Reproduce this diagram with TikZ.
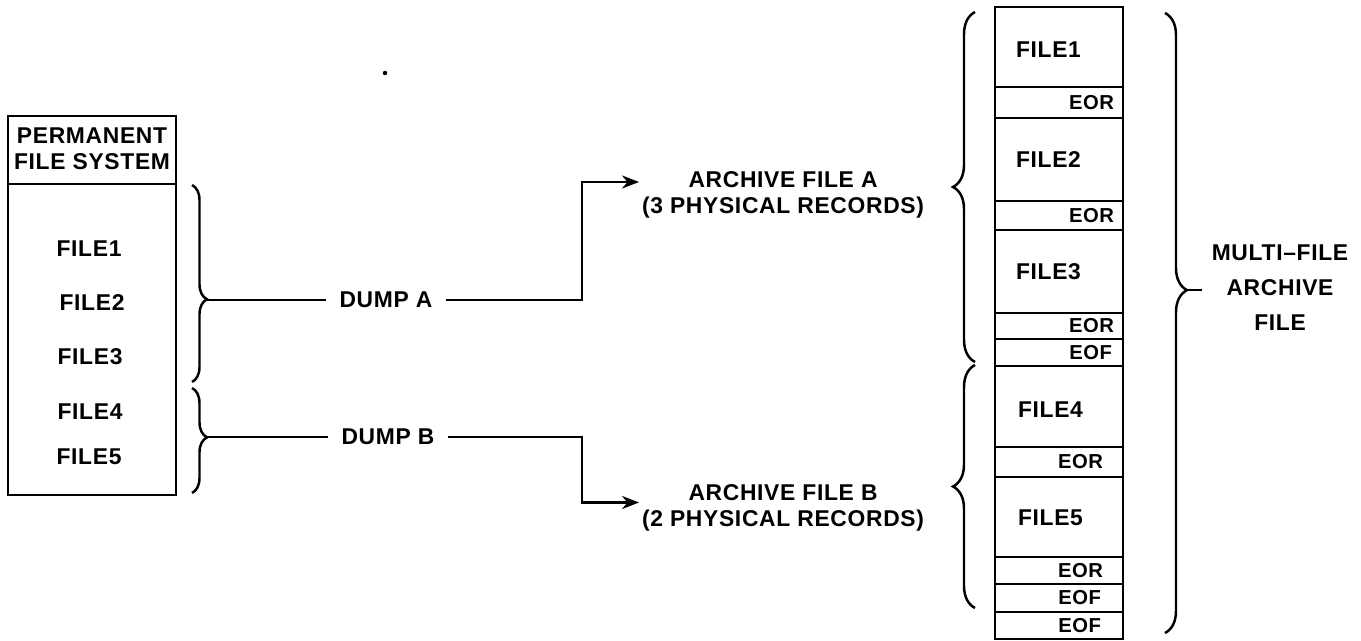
\documentclass[tikz,border=0pt]{standalone}
\usepackage{fontspec}
\setmainfont{Liberation Sans}[LetterSpace=3]
\usetikzlibrary{decorations.pathreplacing,arrows.meta}

\begin{document}
\begin{tikzpicture}[x=0.02cm,y=-0.02cm,line width=1.4pt,
  lbl/.style={inner sep=1pt,font=\fontsize{13}{15}\selectfont\bfseries},
  tag/.style={inner sep=1pt,anchor=east,font=\fontsize{11.5}{13}\selectfont\bfseries},
  dump/.style={lbl,inner xsep=2.4mm},
  brc/.style={decorate,decoration={brace,amplitude=#1}},
  arr/.style={-{Stealth[length=3.4mm,width=2.6mm]}}]
\path[use as bounding box] (0,0) rectangle (1361,641);
\fill (385,73) circle (0.045cm);
% permanent file system
\draw (8,116) rectangle (176,495);
\draw (8,184) -- (176,184);
\node[lbl,align=center] (pfs) at (92,149) {PERMANENT\\FILE SYSTEM};
\node[lbl] (p1) at (89,249) {FILE1};
\node[lbl] (p2) at (92,303) {FILE2};
\node[lbl] (p3) at (90,357) {FILE3};
\node[lbl] (p4) at (90,412) {FILE4};
\node[lbl] (p5) at (89,457) {FILE5};
\draw[brc=0.3cm,decoration={aspect=0.58}] (192,185) -- (192,382);
\draw[brc=0.3cm,decoration={aspect=0.47}] (192,388) -- (192,493);
\coordinate (tipA) at (207,300);
\coordinate (tipB) at (207,437);
% dumps
\node[dump] (dumpA) at (386,300) {DUMP A};
\node[dump] (dumpB) at (388,437) {DUMP B};
\coordinate (bendA) at (582,300);
\coordinate (bendB) at (582,437);
\node[lbl,align=center] (archA) at (783,195) {ARCHIVE FILE A\\(3 PHYSICAL RECORDS)};
\node[lbl,align=center] (archB) at (783,508) {ARCHIVE FILE B\\(2 PHYSICAL RECORDS)};
\draw (tipA) -- (dumpA.west);
\draw (tipB) -- (dumpB.west);
\draw[arr] (dumpA.east) -- (bendA) |- ([yshift=2.6mm]archA.west);
\draw[arr] (dumpB.east) -- (bendB) |- ([yshift=1.1mm]archB.west);
% multi-file archive
\draw (995,7) rectangle (1123,639);
\foreach \y in {87,118,201,230,313,339,366,447,477,557,584,612}
  \draw (995,\y) -- (1123,\y);
\node[lbl,anchor=west] (a1) at (1013,50) {FILE1};
\node[lbl,anchor=west] (a2) at (1013,160) {FILE2};
\node[lbl,anchor=west] (a3) at (1013,272) {FILE3};
\node[lbl,anchor=west] (a4) at (1015,410) {FILE4};
\node[lbl,anchor=west] (a5) at (1015,518) {FILE5};
\node[tag] (r1) at (1117,103) {EOR};
\node[tag] (r2) at (1117,216) {EOR};
\node[tag] (r3) at (1117,326) {EOR};
\node[tag] (e3) at (1115,353) {EOF};
\node[tag] (r4) at (1106,462) {EOR};
\node[tag] (r5) at (1106,571) {EOR};
\node[tag] (e5) at (1104,598) {EOF};
\node[tag] (e6) at (1104,626) {EOF};
\draw[brc=0.44cm] (975,362) -- (975,12);
\draw[brc=0.44cm] (975,608) -- (975,365);
\draw[brc=0.44cm,decoration={aspect=0.447}] (1165,13) -- (1165,633);
\coordinate (tipM) at (1187,290);
\coordinate (stubM) at (1202,290);
\draw (tipM) -- (stubM);
\node[lbl,align=center,font=\fontsize{13}{20}\selectfont\bfseries] (multi) at (1280,288) {MULTI--FILE\\ARCHIVE\\FILE};
\end{tikzpicture}
\end{document}
